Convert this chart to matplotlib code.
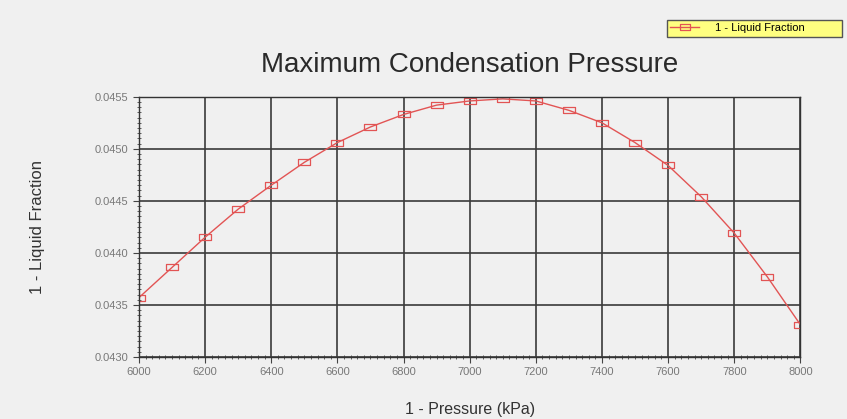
import numpy as np
import matplotlib.pyplot as plt
from matplotlib.ticker import MultipleLocator, FormatStrFormatter

# Pressure sweep and liquid fraction results
pressure = [6000, 6100, 6200, 6300, 6400, 6500, 6600, 6700, 6800, 6900, 7000,
            7100, 7200, 7300, 7400, 7500, 7600, 7700, 7800, 7900, 8000]
liquid_fraction = [0.04357, 0.04386, 0.04415, 0.04442, 0.04465, 0.04487, 0.04506,
                   0.04521, 0.04533, 0.04542, 0.04546, 0.04548, 0.04546, 0.04537,
                   0.04525, 0.04506, 0.04484, 0.04454, 0.04419, 0.04377, 0.04331]

plt.rcParams['font.family'] = ['Liberation Sans', 'DejaVu Sans']

bg = '#f0f0f0'
red = '#e25454'
rect = [(-1, -0.55), (1, -0.55), (1, 0.55), (-1, 0.55), (-1, -0.55)]

fig = plt.figure(figsize=(8.47, 4.19), dpi=100, facecolor=bg)
ax = fig.add_axes([0.164, 0.148, 0.781, 0.621], facecolor=bg)

line, = ax.plot(pressure, liquid_fraction, color=red, lw=1.0, marker=rect,
                markersize=9, markerfacecolor='none', markeredgecolor=red,
                markeredgewidth=0.9, label='1 - Liquid Fraction')

ax.set_xlim(6000, 8000)
ax.set_ylim(0.0430, 0.0455)
ax.xaxis.set_major_locator(MultipleLocator(200))
ax.xaxis.set_minor_locator(MultipleLocator(20))
ax.yaxis.set_major_locator(MultipleLocator(0.0005))
ax.yaxis.set_minor_locator(MultipleLocator(0.00005))
ax.yaxis.set_major_formatter(FormatStrFormatter('%.4f'))

ax.grid(True, which='major', color='#3a3a3a', lw=1.2)
ax.tick_params(which='major', direction='out', length=4, width=0.8,
               labelsize=8, labelcolor='#787878', color='#444444')
ax.tick_params(which='minor', direction='inout', length=3, width=0.6, color='#444444')
for s in ax.spines.values():
    s.set_color('#333333')
    s.set_linewidth(1.0)

ax.set_title('Maximum Condensation Pressure', fontsize=20, color='#2a2a2a', pad=18)
ax.set_xlabel('1 - Pressure (kPa)', fontsize=11.5, color='#333333', labelpad=18)
ax.set_ylabel('1 - Liquid Fraction', fontsize=12, color='#333333', labelpad=36)

# yellow legend box in the top right corner
leg = fig.legend(handles=[line], loc='upper left',
                 bbox_to_anchor=(667 / 847, 1 - 39 / 419, 175 / 847, 19 / 419),
                 mode='expand', borderaxespad=0, fontsize=8, frameon=True,
                 fancybox=False, handlelength=2.6, handletextpad=1.4,
                 borderpad=0.3, markerscale=0.8)
leg.get_frame().set_facecolor('#ffff80')
leg.get_frame().set_edgecolor('#555555')
leg.get_frame().set_alpha(1)

fig.savefig('out.png', dpi=100, facecolor=bg)
